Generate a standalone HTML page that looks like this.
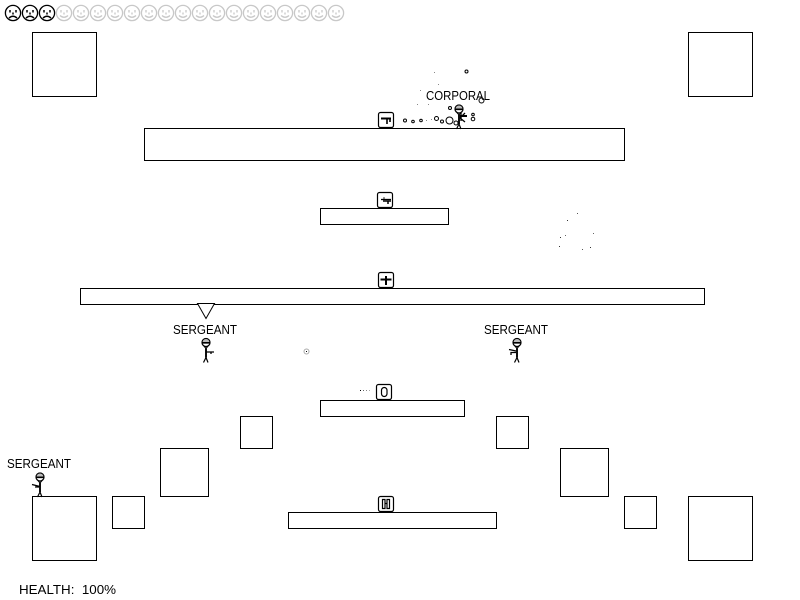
<!DOCTYPE html>
<html><head><meta charset="utf-8"><style>
html,body{margin:0;padding:0;background:#fff;width:800px;height:600px;overflow:hidden}
svg{display:block}
text{font-family:"Liberation Sans",sans-serif;font-size:12.5px;fill:#000;stroke:none}
</style></head><body>
<svg width="800" height="600" viewBox="0 0 800 600" xmlns="http://www.w3.org/2000/svg">
<defs>
<g id="sad" fill="none" stroke="#000" stroke-width="1.3">
<circle r="7.6"/><path d="M-3-3v2.500M3-3v2.500M0-.5v2M-4 5Q0 1.500 4 5" stroke-width="1.500"/>
</g>
<g id="happy" fill="none" stroke="#c8c8c8" stroke-width="1.3">
<circle r="7.6"/><path d="M-3-3v2.500M3-3v2.500M0-.5v2M-4 2.500Q0 6 4 2.500" stroke-width="1.300"/>
</g>
<g id="man" fill="none" stroke="#000">
<circle cx="0" cy="0" r="4" fill="#fff" stroke-width="1.200"/>
<path d="M-4.500 .5H4.500" stroke-width="1.300"/>
<path d="M-4 0A4 4 0 0 1 4 0Z" fill="#bbb" stroke-width="1"/>
<path d="M-3 2.500 0 6 3 2.500" stroke-width="1"/>
<path d="M0 6V15" stroke-width="1.900"/>
<path d="M0 15-2.500 20M0 15 2 20" stroke-width="1.200"/>
</g>
</defs>

<use href="#sad" x="13" y="13"/><use href="#sad" x="30" y="13"/><use href="#sad" x="47" y="13"/>
<use href="#happy" x="64" y="13"/><use href="#happy" x="81" y="13"/><use href="#happy" x="98" y="13"/>
<use href="#happy" x="115" y="13"/><use href="#happy" x="132" y="13"/><use href="#happy" x="149" y="13"/>
<use href="#happy" x="166" y="13"/><use href="#happy" x="183" y="13"/><use href="#happy" x="200" y="13"/>
<use href="#happy" x="217" y="13"/><use href="#happy" x="234" y="13"/><use href="#happy" x="251" y="13"/>
<use href="#happy" x="268" y="13"/><use href="#happy" x="285" y="13"/><use href="#happy" x="302" y="13"/>
<use href="#happy" x="319" y="13"/><use href="#happy" x="336" y="13"/>

<g fill="#fff" stroke="#000">
<rect x="32.5" y="32.5" width="64" height="64"/>
<rect x="688.5" y="32.5" width="64" height="64"/>
<rect x="144.5" y="128.5" width="480" height="32"/>
<rect x="320.5" y="208.5" width="128" height="16"/>
<rect x="80.500" y="288.5" width="624" height="16"/>
<rect x="320.5" y="400.5" width="144" height="16"/>
<rect x="240.5" y="416.5" width="32" height="32"/>
<rect x="496.5" y="416.5" width="32" height="32"/>
<rect x="160.5" y="448.5" width="48" height="48"/>
<rect x="560.5" y="448.5" width="48" height="48"/>
<rect x="32.5" y="496.5" width="64" height="64"/>
<rect x="688.5" y="496.5" width="64" height="64"/>
<rect x="112.5" y="496.5" width="32" height="32"/>
<rect x="624.5" y="496.5" width="32" height="32"/>
<rect x="288.5" y="512.5" width="208" height="16"/>
<path d="M197.5 303.5H214.5L206 318.5Z"/>
</g>

<g fill="#fff" stroke="#000" stroke-width="1.200">
<rect x="378.5" y="112.5" width="15" height="15" rx="2"/>
<rect x="377.5" y="192.5" width="15" height="15" rx="2"/>
<rect x="378.5" y="272.5" width="15" height="15" rx="2"/>
<rect x="376.5" y="384.5" width="15" height="15" rx="2"/>
<rect x="378.5" y="496.5" width="15" height="15" rx="2"/>
</g>
<g fill="none" stroke="#000">
<path d="M381 118.500H391" stroke-width="2"/><path d="M387 118V124M390 118V122" stroke-width="1.600"/>
<path d="M381 199.500H391" stroke-width="1.300"/><path d="M383 201H391M384 197.500V198.500M388 201V204" stroke-width="1.500"/>
<path d="M380.500 279.500H391.500" stroke-width="2"/><path d="M386 276V285" stroke-width="2"/>
<rect x="381.500" y="387.500" width="5.500" height="9" rx="2.700" stroke-width="1.200"/>
<path d="M382.500 499.500H385V508.500H382.500ZM387 499.500H389.500V508.500H387ZM385 503.500H387" stroke-width="1.200"/>
</g>

<text x="173" y="334" textLength="64" lengthAdjust="spacingAndGlyphs">SERGEANT</text>
<text x="484" y="334" textLength="64" lengthAdjust="spacingAndGlyphs">SERGEANT</text>
<text x="7" y="468" textLength="64" lengthAdjust="spacingAndGlyphs">SERGEANT</text>
<text x="426" y="100" textLength="64" lengthAdjust="spacingAndGlyphs">CORPORAL</text>
<text x="19" y="594" textLength="97" lengthAdjust="spacingAndGlyphs" xml:space="preserve">HEALTH:  100%</text>

<use href="#man" x="206" y="342.500"/><path d="M206 352H214M211 352V354" stroke="#000" stroke-width="1.300" fill="none"/>
<use href="#man" x="517" y="342.500"/><path d="M516 351 509 349.500M516 352.500H511V355" stroke="#000" stroke-width="1.300" fill="none"/>
<use href="#man" x="40" y="477"/><path d="M40 486.500 32 484.500M39 487H35" stroke="#000" stroke-width="1.300" fill="none"/>
<use href="#man" x="459" y="109"/><path d="M460 116H467" stroke="#000" stroke-width="2" fill="none"/><path d="M460 118 465 113M460 118 465 122M461 113V121" stroke="#000" stroke-width="1.300" fill="none"/>

<g fill="none" stroke="#000">
<circle cx="466.500" cy="71.500" r="1.500"/>
<circle cx="481.500" cy="100.500" r="2.500"/>
<circle cx="450" cy="108" r="1.500"/>
<circle cx="405" cy="120.500" r="1.500"/>
<circle cx="413" cy="121.500" r="1.300"/>
<circle cx="421" cy="120.500" r="1.300"/>
<circle cx="436.500" cy="118.500" r="2"/>
<circle cx="442" cy="121.500" r="1.500"/>
<circle cx="449.500" cy="120.500" r="3.500"/>
<circle cx="456" cy="123" r="2"/>
<circle cx="473" cy="114.500" r="1.300"/>
<circle cx="473" cy="119" r="1.800"/>
<circle cx="306.500" cy="351.500" r="2.500" stroke="#aaa"/>
</g>
<g fill="#000">
<rect x="306" y="351" width="1" height="1"/>
<rect x="434" y="72" width="1" height="1" fill="#888"/><rect x="438" y="84" width="1" height="1" fill="#888"/>
<rect x="417" y="104" width="1" height="1" fill="#888"/><rect x="420" y="90" width="1" height="1" fill="#888"/>
<rect x="428" y="104" width="1" height="1" fill="#888"/><rect x="426" y="120" width="1" height="1" fill="#888"/>
<rect x="431" y="119" width="1" height="1" fill="#888"/>
<rect x="360" y="390" width="1" height="1"/><rect x="363" y="390" width="1" height="1" fill="#666"/>
<rect x="366" y="390" width="1" height="1" fill="#888"/><rect x="369" y="390" width="1" height="1" fill="#aaa"/>
<rect x="577" y="213" width="1" height="1" fill="#555"/><rect x="567" y="220" width="1" height="1" fill="#333"/>
<rect x="565" y="235" width="1" height="1" fill="#666"/><rect x="560" y="237" width="1" height="1" fill="#333"/>
<rect x="593" y="233" width="1" height="1" fill="#666"/><rect x="559" y="246" width="1" height="1" fill="#333"/>
<rect x="590" y="247" width="1" height="1" fill="#333"/><rect x="582" y="249" width="1" height="1" fill="#555"/>
</g>
</svg>
</body></html>
